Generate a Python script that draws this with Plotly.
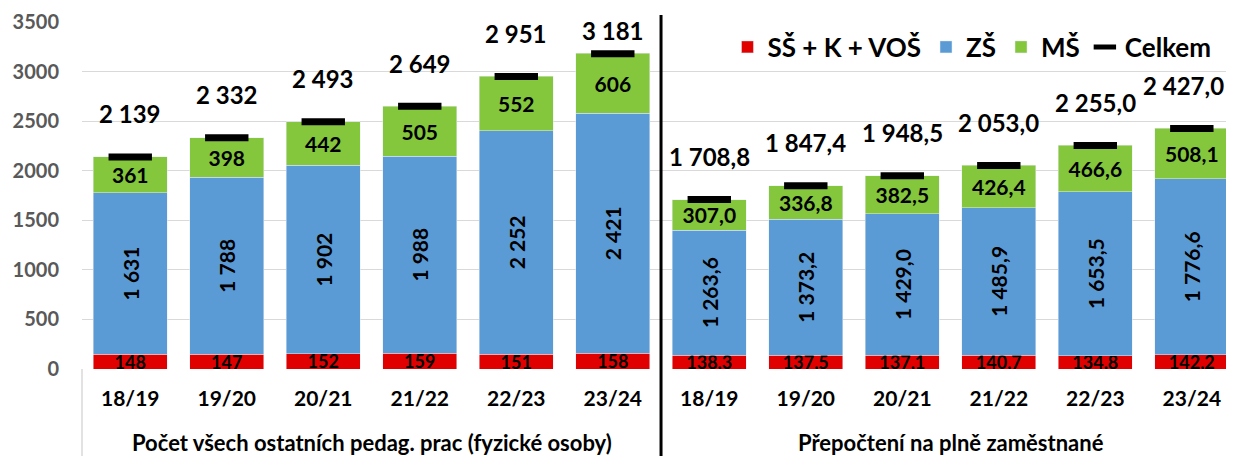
import plotly.graph_objects as go

# ---- data ----
years = ["18/19", "19/20", "20/21", "21/22", "22/23", "23/24"]
groups = ["Počet všech ostatních pedag. prac (fyzické osoby)", "Přepočtení na plně zaměstnané"]

ss_fyz = [148, 147, 152, 159, 151, 158]
zs_fyz = [1631, 1788, 1902, 1988, 2252, 2421]
ms_fyz = [361, 398, 442, 505, 552, 606]
tot_fyz = [2139, 2332, 2493, 2649, 2951, 3181]

ss_pr = [138.3, 137.5, 137.1, 140.7, 134.8, 142.2]
zs_pr = [1263.6, 1373.2, 1429.0, 1485.9, 1653.5, 1776.6]
ms_pr = [307.0, 336.8, 382.5, 426.4, 466.6, 508.1]
tot_pr = [1708.8, 1847.4, 1948.5, 2053.0, 2255.0, 2427.0]

series_names = ["SŠ + K + VOŠ", "ZŠ", "MŠ", "Celkem"]
yticks = [0, 500, 1000, 1500, 2000, 2500, 3000, 3500]


def fmt(v, dec):
    s = f"{v:,.{dec}f}"
    return s.replace(",", " ").replace(".", ",")


x = list(range(12))
ticktext = years + years
ss = ss_fyz + ss_pr
zs = zs_fyz + zs_pr
ms = ms_fyz + ms_pr
tot = tot_fyz + tot_pr
decs = [0] * 6 + [1] * 6

FONT = "Lato"
RED, BLUE, GREEN = "#E00000", "#5B9BD5", "#84C63C"

fig = go.Figure()
fig.add_trace(go.Bar(
    x=x, y=ss, name=series_names[0], marker_color=RED,
    text=[fmt(v, d) for v, d in zip(ss, decs)], textposition="inside",
    insidetextanchor="middle", constraintext="none", textangle=0,
    insidetextfont=dict(family=FONT, size=18, color="black", weight="bold"),
))
fig.add_trace(go.Bar(
    x=x, y=zs, name=series_names[1], marker_color=BLUE,
    text=[fmt(v, d) for v, d in zip(zs, decs)], textposition="inside",
    insidetextanchor="middle", constraintext="none", textangle=-90,
    insidetextfont=dict(family=FONT, size=21, color="black", weight="bold"),
))
fig.add_trace(go.Bar(
    x=x, y=ms, name=series_names[2], marker_color=GREEN,
    text=[fmt(v, d) for v, d in zip(ms, decs)], textposition="inside",
    insidetextanchor="middle", constraintext="none", textangle=0,
    insidetextfont=dict(family=FONT, size=21, color="black", weight="bold"),
))
fig.add_trace(go.Scatter(
    x=x, y=tot, name=series_names[3], mode="markers",
    marker=dict(symbol="line-ew", size=31, line=dict(width=7, color="black"), color="black"),
))

for i, (xi, t, d) in enumerate(zip(x, tot, decs)):
    fig.add_annotation(
        x=xi, y=min(t + 435, 3410), xref="x", yref="y", text=fmt(t, d),
        showarrow=False, yanchor="middle", xshift=(-8 if i == len(x) - 1 else 0),
        font=dict(family=FONT, size=24, color="black", weight="bold"),
    )

for gx, g in zip([2.5, 8.5], groups):
    fig.add_annotation(
        x=gx, y=-0.213, xref="x", yref="paper", text=g, showarrow=False,
        yanchor="middle", font=dict(family=FONT, size=22, color="black", weight="bold"),
    )

# group dividers
fig.add_shape(type="line", xref="paper", yref="paper", x0=0, x1=0, y0=0, y1=-0.3,
              line=dict(color="#D9D9D9", width=1.5))
fig.add_shape(type="line", xref="x", yref="paper", x0=5.5, x1=5.5, y0=-0.3, y1=1.02,
              line=dict(color="black", width=3))

fig.update_layout(
    width=1234, height=456,
    margin=dict(l=74, r=0, t=14, b=95),
    paper_bgcolor="white", plot_bgcolor="white",
    barmode="stack", bargap=0.23,
    font=dict(family=FONT, color="black"),
    showlegend=True,
    legend=dict(orientation="h", x=0.978, xanchor="right", y=0.928, yanchor="middle",
                font=dict(family=FONT, size=26, color="black", weight="bold"),
                bgcolor="rgba(255,255,255,0)", itemwidth=30, traceorder="normal"),
    xaxis=dict(range=[-0.5, 11.52], tickmode="array", tickvals=x, ticktext=ticktext,
               showgrid=False, zeroline=False, showline=False, ticks="",
               tickfont=dict(family=FONT, size=21, color="black", weight="bold"),
               ticklabelstandoff=15),
    yaxis=dict(range=[0, 3500], tickmode="array", tickvals=yticks,
               ticktext=[str(v) for v in yticks],
               showgrid=True, gridcolor="#D9D9D9", gridwidth=1.3,
               zeroline=False, showline=False, ticks="",
               tickfont=dict(family=FONT, size=20, color="#595959", weight="bold"),
               ticklabelstandoff=22),
)

fig.write_html("out.html")
